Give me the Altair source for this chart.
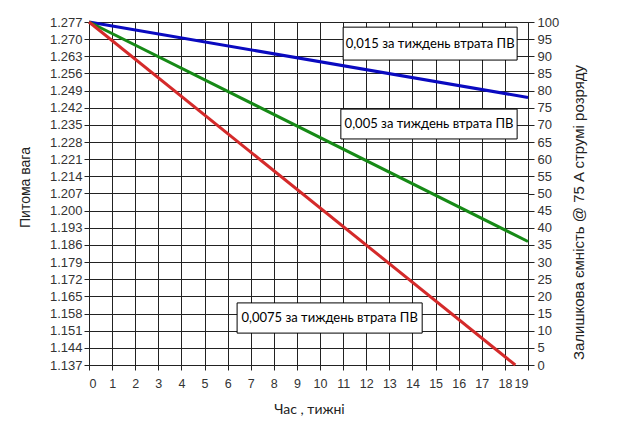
import altair as alt
import pandas as pd

# ---- data ----
weeks = [0, 1, 2, 3, 4, 5, 6, 7, 8, 9, 10, 11, 12, 13, 14, 15, 16, 17, 18, 19]
sg_ticks = [1.137, 1.144, 1.151, 1.158, 1.165, 1.172, 1.179, 1.186, 1.193, 1.200,
            1.207, 1.214, 1.221, 1.228, 1.235, 1.242, 1.249, 1.256, 1.263, 1.270, 1.277]
cap_ticks = [0, 5, 10, 15, 20, 25, 30, 35, 40, 45, 50, 55, 60, 65, 70, 75, 80, 85, 90, 95, 100]

series_labels = ["0,015 за тиждень втрата ПВ",
                 "0,005 за тиждень втрата ПВ",
                 "0,0075 за тиждень втрата ПВ"]
series_colors = ["#0a0ac0", "#168a16", "#d42a2a"]
start_week = [0, 0, 0]
end_week = [19, 19, 18.45]
start_cap = [100, 100, 100]
end_cap = [78, 36, 0]

# annotation boxes (data coordinates: weeks / capacity %)
ann_x1 = [11.0, 10.9, 6.41]
ann_x2 = [18.53, 18.53, 14.42]
ann_y1 = [98.5, 74.6, 18.1]
ann_y2 = [88.9, 65.9, 9.3]

# ---- tables ----
rows = []
for i, s in enumerate(series_labels):
    rows.append({"series": s, "week": start_week[i], "cap": start_cap[i], "order": 0})
    rows.append({"series": s, "week": end_week[i], "cap": end_cap[i], "order": 1})
lines_df = pd.DataFrame(rows)

ann_df = pd.DataFrame({
    "label": series_labels,
    "x1": ann_x1, "x2": ann_x2, "y1": ann_y1, "y2": ann_y2,
})
ann_df["xc"] = (ann_df["x1"] + ann_df["x2"]) / 2
ann_df["yc"] = (ann_df["y1"] + ann_df["y2"]) / 2

sg_df = pd.DataFrame({"week": [0] * len(sg_ticks), "sg": sg_ticks})

xscale = alt.Scale(domain=[0, 19], nice=False, zero=False)
capscale = alt.Scale(domain=[0, 100], nice=False, zero=False)

AX_FONT = "Liberation Sans"

xaxis = alt.Axis(values=weeks, title="Час , тижні", grid=True,
                 format="d", labelFont=AX_FONT, labelFontSize=12.5,
                 labelColor="#333", tickSize=5, labelPadding=7,
                 titleFont="Lato", titleFontSize=14, titleFontWeight="normal",
                 titleColor="#222", titleX=220, titleY=44,
                 titleBaseline="middle")

capaxis = alt.Axis(orient="right", values=cap_ticks, grid=False,
                   title="Залишкова ємність @ 75 A струмі розряду",
                   labelFont=AX_FONT, labelFontSize=13, labelColor="#333",
                   tickSize=6, labelPadding=3, titleFont=AX_FONT,
                   titleFontSize=15, titleFontWeight="normal",
                   titleColor="#222", titleX=50, titleY=190,
                   titleAngle=270, titleBaseline="middle")

left = alt.Chart(sg_df).mark_point(opacity=0).encode(
    x=alt.X("week:Q", scale=xscale, axis=xaxis),
    y=alt.Y("sg:Q", scale=alt.Scale(domain=[1.137, 1.277], nice=False, zero=False),
            axis=alt.Axis(values=sg_ticks, format=".3f", title="Питома вага",
                          orient="left", grid=True, labelFont=AX_FONT,
                          labelFontSize=13, labelColor="#333", tickSize=5,
                          labelPadding=2, titleFont=AX_FONT, titleFontSize=14,
                          titleFontWeight="normal", titleColor="#222",
                          titleX=-64, titleY=165, titleAngle=270,
                          titleBaseline="middle")),
)

lines = alt.Chart(lines_df).mark_line(strokeWidth=3).encode(
    x=alt.X("week:Q", scale=xscale, axis=xaxis),
    y=alt.Y("cap:Q", scale=capscale, axis=capaxis),
    color=alt.Color("series:N", scale=alt.Scale(domain=series_labels, range=series_colors),
                    legend=None),
    order="order:Q",
)

boxes = alt.Chart(ann_df).mark_rect(fill="white", stroke="black", strokeWidth=1).encode(
    x=alt.X("x1:Q", scale=xscale, axis=xaxis),
    x2="x2:Q",
    y=alt.Y("y1:Q", scale=capscale, axis=capaxis),
    y2="y2:Q",
)

texts = alt.Chart(ann_df).mark_text(font="Lato", fontSize=13, color="black",
                                    align="center", baseline="middle").encode(
    x=alt.X("xc:Q", scale=xscale, axis=xaxis),
    y=alt.Y("yc:Q", scale=capscale, axis=capaxis),
    text="label:N",
)

right = alt.layer(lines, boxes, texts)

chart = alt.layer(left, right).resolve_scale(y="independent").properties(
    width=439, height=343,
    autosize=alt.AutoSizeParams(type="none"),
    padding={"left": 81, "top": 14, "right": 84, "bottom": 56},
    background="white",
).configure_view(stroke="#888", strokeWidth=1).configure_axis(
    gridColor="#222", gridWidth=1, gridOpacity=1,
    domainColor="#222", tickColor="#222", domainWidth=1,
)

chart.save("out.html", embed_options={"renderer": "svg", "actions": False})
